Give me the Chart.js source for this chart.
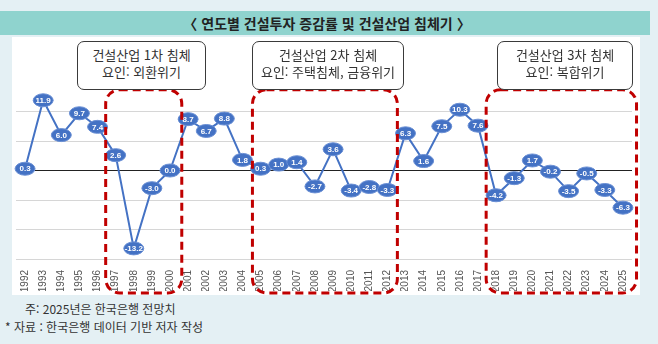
<!DOCTYPE html>
<html lang="ko">
<head>
<meta charset="utf-8">
<script src="https://cdn.jsdelivr.net/npm/chart.js@4.4.1/dist/chart.umd.min.js"></script>
<style>
  html, body { margin: 0; padding: 0; }
  body {
    width: 658px; height: 344px; position: relative; overflow: hidden;
    background: #e4f0f4;
    font-family: "Noto Sans CJK KR", "Noto Sans", sans-serif;
  }
  .band { position: absolute; left: 0; top: 11px; width: 650px; height: 24px; background: #8fd3ce; }
  .title { position: absolute; left: 0; top: 11px; width: 654px; height: 24px; line-height: 24px;
    text-align: center; font-weight: bold; font-size: 14px; color: #222; }
  .panel { position: absolute; left: 12px; top: 37px; width: 628px; height: 258px; background: #fff; }
  .note { position: absolute; font-size: 12px; color: #333; white-space: nowrap; }
  .box { position: absolute; top: 41px; height: 43px; border: 1.5px solid #3a3a3a; border-radius: 7px;
    background: #fff; font-size: 13px; color: #333; text-align: center; line-height: 17px;
    padding-top: 4px; box-sizing: content-box; z-index: 3; }
  canvas { position: absolute; left: 0; top: 0; z-index: 2; }
</style>
</head>
<body>
<div class="band"></div>
<div class="title">〈 연도별 건설투자 증감률 및 건설산업 침체기 〉</div>
<div class="panel"></div>
<div class="note" style="left:25px; top:300px;">주: 2025년은 한국은행 전망치</div>
<div class="note" style="left:5px; top:318px;">* 자료 : 한국은행 데이터 기반 저자 작성</div>
<canvas id="chart" width="658" height="344"></canvas>
<script>
const years = ['1992', '1993', '1994', '1995', '1996', '1997', '1998', '1999', '2000', '2001',
  '2002', '2003', '2004', '2005', '2006', '2007', '2008', '2009', '2010', '2011', '2012',
  '2013', '2014', '2015', '2016', '2017', '2018', '2019', '2020', '2021', '2022', '2023',
  '2024', '2025'];
const growthRates = [0.3, 11.9, 6.0, 9.7, 7.4, 2.6, -13.2, -3.0, 0.0, 8.7,
  6.7, 8.8, 1.8, 0.3, 1.0, 1.4, -2.7, 3.6, -3.4, -2.8, -3.3,
  6.3, 1.6, 7.5, 10.3, 7.6, -4.2, -1.3, 1.7, -0.2, -3.5, -0.5,
  -3.3, -6.3];
const yTicks = [-15, -10, -5, 0, 5, 10, 15];

// slump periods, in category index units
const slumpStart = [4.45, 12.55, 25.45];
const slumpEnd = [8.65, 20.55, 33.75];
const slumpTitles = ['건설산업 1차 침체', '건설산업 2차 침체', '건설산업 3차 침체'];
const slumpCauses = ['요인: 외환위기', '요인: 주택침체, 금융위기', '요인: 복합위기'];

// callout box layout
const boxLeft = [77, 252, 497];
const boxWidth = [127, 150, 134];
slumpTitles.forEach(function (t, i) {
  const d = document.createElement('div');
  d.className = 'box';
  d.style.left = boxLeft[i] + 'px';
  d.style.width = boxWidth[i] + 'px';
  d.innerHTML = t + '<br>' + slumpCauses[i];
  document.body.appendChild(d);
});

const bubbleLabels = {
  id: 'bubbleLabels',
  afterDatasetsDraw(chart) {
    const ctx = chart.ctx;
    const meta = chart.getDatasetMeta(0);
    ctx.save();
    meta.data.forEach(function (pt, i) {
      ctx.beginPath();
      ctx.ellipse(pt.x, pt.y, 10, 6.5, 0, 0, Math.PI * 2);
      ctx.fillStyle = '#4472c4';
      ctx.fill();
      ctx.lineWidth = 1;
      ctx.strokeStyle = '#6a8fd4';
      ctx.stroke();
      ctx.fillStyle = '#fff';
      ctx.font = 'bold 8px "Liberation Sans", Arial, sans-serif';
      ctx.textAlign = 'center';
      ctx.textBaseline = 'middle';
      ctx.fillText(growthRates[i].toFixed(1), pt.x, pt.y + 0.5);
    });
    ctx.restore();
  }
};

const slumpBoxes = {
  id: 'slumpBoxes',
  afterDraw(chart) {
    const ctx = chart.ctx;
    const xs = chart.scales.x;
    const ys = chart.scales.y;
    const top = ys.getPixelForValue(13.7);
    const bottom = chart.chartArea.bottom + 34;
    ctx.save();
    ctx.strokeStyle = '#c00000';
    ctx.lineWidth = 3;
    ctx.setLineDash([8, 5]);
    slumpStart.forEach(function (s, i) {
      const l = xs.getPixelForValue(s);
      const r = xs.getPixelForValue(slumpEnd[i]);
      ctx.beginPath();
      ctx.roundRect(l, top, r - l, bottom - top, 14);
      ctx.stroke();
    });
    ctx.restore();
  }
};

new Chart(document.getElementById('chart'), {
  type: 'line',
  data: {
    labels: years,
    datasets: [{
      data: growthRates,
      borderColor: '#4472c4',
      borderWidth: 2,
      pointRadius: 0,
      tension: 0,
    }],
  },
  options: {
    responsive: false,
    animation: false,
    layout: { padding: { left: 16, right: 26, top: 82, bottom: 53 } },
    plugins: { legend: { display: false }, tooltip: { enabled: false } },
    scales: {
      x: {
        offset: true,
        grid: { display: false },
        border: { display: false },
        ticks: {
          minRotation: 90, maxRotation: 90, autoSkip: false, padding: 3,
          color: '#555', font: { size: 10, family: '"Liberation Sans", Arial, sans-serif' },
        },
        afterFit(scale) { scale.height = 32; },
      },
      y: {
        min: -15, max: 15,
        afterBuildTicks(scale) { scale.ticks = yTicks.map(function (v) { return { value: v }; }); },
        ticks: { display: false },
        border: { display: false },
        grid: {
          drawTicks: false,
          lineWidth: 1,
          color(c) {
            if (c.tick.value === 0) return '#222';
            if (c.tick.value === 15) return 'rgba(0,0,0,0)';
            return '#d6d6d6';
          },
        },
        afterFit(scale) { scale.width = 0; },
      },
    },
  },
  plugins: [bubbleLabels, slumpBoxes],
});
</script>
</body>
</html>
